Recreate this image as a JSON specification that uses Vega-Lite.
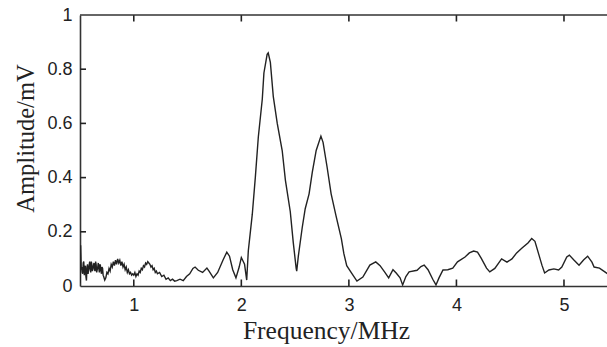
{
  "$schema": "https://vega.github.io/schema/vega-lite/v6.json",
  "autosize": {"type": "none"},
  "padding": {"left": 80, "top": 15, "right": 0, "bottom": 61},
  "width": 527,
  "height": 271,
  "background": "white",
  "datasets": {
    "xticks": [{"f": 1}, {"f": 2}, {"f": 3}, {"f": 4}, {"f": 5}],
    "yticks": [{"a": 0.2}, {"a": 0.4}, {"a": 0.6}, {"a": 0.8}],
    "frame": [{"edge": "top"}],
    "spectrum": [
      {"f": 0.502, "a": 0.01}, {"f": 0.506, "a": 0.15}, {"f": 0.512, "a": 0.06}, {"f": 0.515, "a": 0.07},
      {"f": 0.52, "a": 0.05}, {"f": 0.525, "a": 0.045}, {"f": 0.53, "a": 0.085}, {"f": 0.535, "a": 0.09},
      {"f": 0.54, "a": 0.04}, {"f": 0.545, "a": 0.06}, {"f": 0.55, "a": 0.075}, {"f": 0.555, "a": 0.035},
      {"f": 0.56, "a": 0.02}, {"f": 0.565, "a": 0.07}, {"f": 0.57, "a": 0.08}, {"f": 0.575, "a": 0.045},
      {"f": 0.58, "a": 0.06}, {"f": 0.585, "a": 0.075}, {"f": 0.59, "a": 0.09}, {"f": 0.595, "a": 0.06},
      {"f": 0.60, "a": 0.05}, {"f": 0.605, "a": 0.09}, {"f": 0.61, "a": 0.08}, {"f": 0.615, "a": 0.055},
      {"f": 0.62, "a": 0.065}, {"f": 0.625, "a": 0.075}, {"f": 0.63, "a": 0.085}, {"f": 0.635, "a": 0.06},
      {"f": 0.64, "a": 0.055}, {"f": 0.645, "a": 0.09}, {"f": 0.65, "a": 0.08}, {"f": 0.655, "a": 0.05},
      {"f": 0.66, "a": 0.06}, {"f": 0.665, "a": 0.07}, {"f": 0.67, "a": 0.085}, {"f": 0.675, "a": 0.065},
      {"f": 0.68, "a": 0.05}, {"f": 0.685, "a": 0.08}, {"f": 0.69, "a": 0.075}, {"f": 0.695, "a": 0.055},
      {"f": 0.70, "a": 0.045}, {"f": 0.705, "a": 0.07}, {"f": 0.71, "a": 0.065}, {"f": 0.715, "a": 0.04},
      {"f": 0.72, "a": 0.035}, {"f": 0.73, "a": 0.022}, {"f": 0.74, "a": 0.03}, {"f": 0.75, "a": 0.05},
      {"f": 0.76, "a": 0.045}, {"f": 0.77, "a": 0.065}, {"f": 0.78, "a": 0.055}, {"f": 0.79, "a": 0.08},
      {"f": 0.80, "a": 0.07}, {"f": 0.81, "a": 0.09}, {"f": 0.82, "a": 0.075}, {"f": 0.83, "a": 0.095},
      {"f": 0.84, "a": 0.08}, {"f": 0.85, "a": 0.1}, {"f": 0.86, "a": 0.085}, {"f": 0.87, "a": 0.095},
      {"f": 0.88, "a": 0.075}, {"f": 0.89, "a": 0.09}, {"f": 0.90, "a": 0.07}, {"f": 0.91, "a": 0.08},
      {"f": 0.92, "a": 0.06}, {"f": 0.93, "a": 0.07}, {"f": 0.94, "a": 0.05}, {"f": 0.95, "a": 0.06},
      {"f": 0.96, "a": 0.045}, {"f": 0.97, "a": 0.05}, {"f": 0.98, "a": 0.04}, {"f": 0.99, "a": 0.045},
      {"f": 1.00, "a": 0.04}, {"f": 1.01, "a": 0.05}, {"f": 1.02, "a": 0.035}, {"f": 1.03, "a": 0.045},
      {"f": 1.04, "a": 0.04}, {"f": 1.05, "a": 0.055}, {"f": 1.06, "a": 0.05}, {"f": 1.07, "a": 0.065},
      {"f": 1.08, "a": 0.06}, {"f": 1.09, "a": 0.075}, {"f": 1.10, "a": 0.07}, {"f": 1.11, "a": 0.085},
      {"f": 1.12, "a": 0.08}, {"f": 1.13, "a": 0.09}, {"f": 1.14, "a": 0.085}, {"f": 1.15, "a": 0.08},
      {"f": 1.16, "a": 0.07}, {"f": 1.17, "a": 0.075}, {"f": 1.18, "a": 0.06}, {"f": 1.19, "a": 0.065},
      {"f": 1.20, "a": 0.05}, {"f": 1.21, "a": 0.055}, {"f": 1.22, "a": 0.045}, {"f": 1.24, "a": 0.05},
      {"f": 1.26, "a": 0.035}, {"f": 1.28, "a": 0.04}, {"f": 1.30, "a": 0.025}, {"f": 1.32, "a": 0.03},
      {"f": 1.34, "a": 0.02}, {"f": 1.36, "a": 0.025}, {"f": 1.38, "a": 0.018}, {"f": 1.40, "a": 0.02},
      {"f": 1.43, "a": 0.025}, {"f": 1.46, "a": 0.02}, {"f": 1.49, "a": 0.035}, {"f": 1.52, "a": 0.045},
      {"f": 1.55, "a": 0.065}, {"f": 1.57, "a": 0.07}, {"f": 1.60, "a": 0.058}, {"f": 1.64, "a": 0.05},
      {"f": 1.68, "a": 0.066}, {"f": 1.70, "a": 0.055}, {"f": 1.74, "a": 0.03}, {"f": 1.78, "a": 0.05},
      {"f": 1.83, "a": 0.096}, {"f": 1.865, "a": 0.125}, {"f": 1.89, "a": 0.11}, {"f": 1.92, "a": 0.06},
      {"f": 1.95, "a": 0.03}, {"f": 1.98, "a": 0.07}, {"f": 2.00, "a": 0.105}, {"f": 2.03, "a": 0.08},
      {"f": 2.05, "a": 0.022}, {"f": 2.065, "a": 0.13}, {"f": 2.102, "a": 0.265}, {"f": 2.13, "a": 0.40},
      {"f": 2.158, "a": 0.55}, {"f": 2.195, "a": 0.69}, {"f": 2.21, "a": 0.786}, {"f": 2.24, "a": 0.855},
      {"f": 2.25, "a": 0.86}, {"f": 2.27, "a": 0.825}, {"f": 2.297, "a": 0.70}, {"f": 2.334, "a": 0.60},
      {"f": 2.38, "a": 0.50}, {"f": 2.41, "a": 0.39}, {"f": 2.455, "a": 0.275}, {"f": 2.483, "a": 0.16},
      {"f": 2.51, "a": 0.065}, {"f": 2.515, "a": 0.055}, {"f": 2.53, "a": 0.11}, {"f": 2.566, "a": 0.215},
      {"f": 2.594, "a": 0.285}, {"f": 2.63, "a": 0.34}, {"f": 2.66, "a": 0.42}, {"f": 2.696, "a": 0.50},
      {"f": 2.74, "a": 0.553}, {"f": 2.76, "a": 0.53}, {"f": 2.797, "a": 0.44}, {"f": 2.835, "a": 0.34},
      {"f": 2.88, "a": 0.26}, {"f": 2.93, "a": 0.175}, {"f": 2.953, "a": 0.12}, {"f": 2.98, "a": 0.075},
      {"f": 3.03, "a": 0.045}, {"f": 3.075, "a": 0.018}, {"f": 3.13, "a": 0.033}, {"f": 3.195, "a": 0.077},
      {"f": 3.25, "a": 0.089}, {"f": 3.29, "a": 0.075}, {"f": 3.335, "a": 0.05}, {"f": 3.37, "a": 0.03},
      {"f": 3.41, "a": 0.06}, {"f": 3.44, "a": 0.048}, {"f": 3.476, "a": 0.03}, {"f": 3.50, "a": 0.004},
      {"f": 3.53, "a": 0.035}, {"f": 3.56, "a": 0.052}, {"f": 3.634, "a": 0.058}, {"f": 3.67, "a": 0.072},
      {"f": 3.70, "a": 0.077}, {"f": 3.736, "a": 0.06}, {"f": 3.78, "a": 0.025}, {"f": 3.81, "a": 0.004},
      {"f": 3.838, "a": 0.03}, {"f": 3.875, "a": 0.059}, {"f": 3.92, "a": 0.06}, {"f": 3.966, "a": 0.066},
      {"f": 4.01, "a": 0.089}, {"f": 4.08, "a": 0.107}, {"f": 4.12, "a": 0.122}, {"f": 4.16, "a": 0.129},
      {"f": 4.196, "a": 0.125}, {"f": 4.23, "a": 0.103}, {"f": 4.28, "a": 0.066}, {"f": 4.31, "a": 0.052},
      {"f": 4.357, "a": 0.065}, {"f": 4.42, "a": 0.1}, {"f": 4.47, "a": 0.088}, {"f": 4.516, "a": 0.1},
      {"f": 4.56, "a": 0.122}, {"f": 4.61, "a": 0.14}, {"f": 4.665, "a": 0.159}, {"f": 4.70, "a": 0.175},
      {"f": 4.73, "a": 0.165}, {"f": 4.767, "a": 0.115}, {"f": 4.795, "a": 0.077}, {"f": 4.82, "a": 0.048},
      {"f": 4.86, "a": 0.059}, {"f": 4.906, "a": 0.063}, {"f": 4.95, "a": 0.059}, {"f": 4.98, "a": 0.07},
      {"f": 5.026, "a": 0.107}, {"f": 5.05, "a": 0.114}, {"f": 5.09, "a": 0.097}, {"f": 5.14, "a": 0.077},
      {"f": 5.184, "a": 0.097}, {"f": 5.22, "a": 0.11}, {"f": 5.26, "a": 0.088}, {"f": 5.28, "a": 0.07},
      {"f": 5.33, "a": 0.066}, {"f": 5.38, "a": 0.052}, {"f": 5.405, "a": 0.045}
    ]
  },
  "config": {
    "view": {"stroke": null},
    "axis": {
      "grid": false,
      "ticks": false,
      "domainColor": "#333",
      "domainWidth": 1.6,
      "labelFont": "Liberation Sans",
      "labelFontSize": 18,
      "labelColor": "#222",
      "titleFont": "Liberation Serif",
      "titleFontWeight": "normal",
      "titleColor": "#222"
    }
  },
  "layer": [
    {
      "data": {"name": "spectrum"},
      "mark": {"type": "line", "color": "#222", "strokeWidth": 1.4, "clip": true},
      "encoding": {
        "x": {
          "field": "f", "type": "quantitative",
          "scale": {"domain": [0.5, 5.4], "nice": false, "zero": false},
          "axis": {
            "orient": "bottom", "values": [1, 2, 3, 4, 5], "format": "~g", "labelPadding": 10,
            "title": "Frequency/MHz", "titleFontSize": 25.5,
            "titleX": 246, "titleY": 52, "titleAlign": "center", "titleBaseline": "alphabetic"
          }
        },
        "y": {
          "field": "a", "type": "quantitative",
          "scale": {"domain": [0, 1], "nice": false},
          "axis": {
            "orient": "left", "values": [0, 0.2, 0.4, 0.6, 0.8, 1], "format": "~g", "labelPadding": 8,
            "title": "Amplitude/mV", "titleFontSize": 24.5,
            "titleX": -47, "titleY": 123, "titleAlign": "center", "titleBaseline": "alphabetic", "titleAngle": -90
          }
        }
      }
    },
    {
      "data": {"name": "xticks"},
      "mark": {"type": "rule", "color": "#222", "strokeWidth": 1.6},
      "encoding": {
        "x": {"field": "f", "type": "quantitative"},
        "y": {"datum": 0, "type": "quantitative"},
        "y2": {"datum": 0.024}
      }
    },
    {
      "data": {"name": "xticks"},
      "mark": {"type": "rule", "color": "#222", "strokeWidth": 1.6},
      "encoding": {
        "x": {"field": "f", "type": "quantitative"},
        "y": {"datum": 1, "type": "quantitative"},
        "y2": {"datum": 0.976}
      }
    },
    {
      "data": {"name": "yticks"},
      "mark": {"type": "rule", "color": "#222", "strokeWidth": 1.6},
      "encoding": {
        "y": {"field": "a", "type": "quantitative"},
        "x": {"datum": 0.5, "type": "quantitative"},
        "x2": {"datum": 0.556}
      }
    },
    {
      "data": {"name": "frame"},
      "mark": {"type": "rule", "color": "#333", "strokeWidth": 1.6},
      "encoding": {
        "y": {"datum": 1, "type": "quantitative"},
        "x": {"datum": 0.5, "type": "quantitative"},
        "x2": {"datum": 5.4}
      }
    }
  ]
}
